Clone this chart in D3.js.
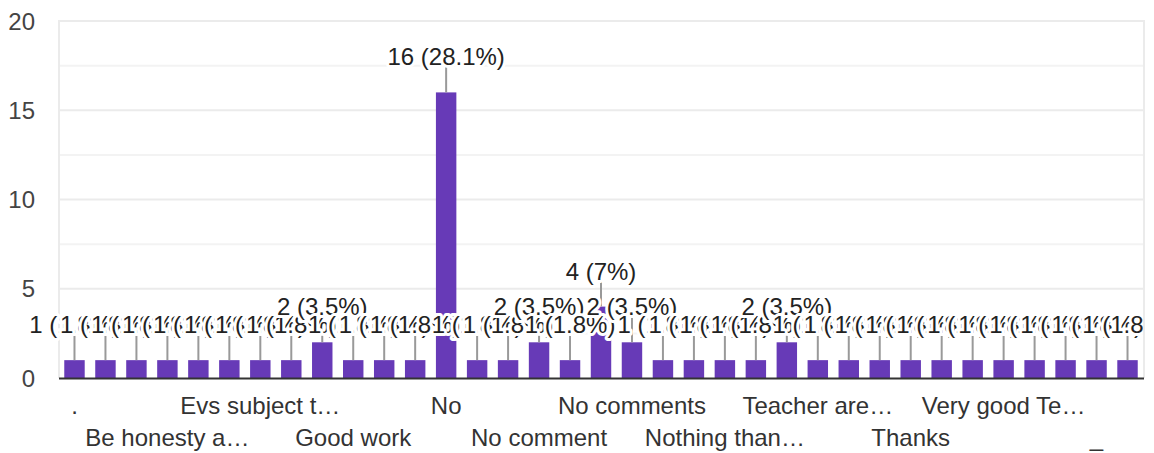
<!DOCTYPE html>
<html>
<head>
<meta charset="utf-8">
<script src="https://cdn.jsdelivr.net/npm/d3@7"></script>
<style>
  html, body { margin: 0; padding: 0; background: #fff; }
  svg { display: block; font-family: "Liberation Sans", Arial, sans-serif; }
</style>
</head>
<body>
<svg id="chart" width="1154" height="453"></svg>
<script>
const categories = [
  ".", "All good", "Awesome", "Be honesty a…", "Best teacher", "Everything is good",
  "Evs subject t…", "Good", "Good teaching", "Good work", "I like it", "Nice",
  "No", "No anything", "No changes", "No comment", "No comment sir", "No comment.",
  "No comments", "No suggestion", "Nothing", "Nothing than…", "Ok", "Super",
  "Teacher are…", "Teacher is good", "Teaching is good", "Thanks", "Thanks a lot",
  "Very good", "Very good Te…", "Very nice", "Well done", "_", "nothing"
];
const values = [
  1, 1, 1, 1, 1, 1,
  1, 1, 2, 1, 1, 1,
  16, 1, 1, 2, 1, 4,
  2, 1, 1, 1, 1, 2,
  1, 1, 1, 1, 1,
  1, 1, 1, 1, 1, 1
];
const yTicks = [0, 5, 10, 15, 20];
const yMinorTicks = [2.5, 7.5, 12.5, 17.5];

const total = d3.sum(values);
const data = categories.map((c, i) => ({ i, cat: c, v: values[i] }));

const svg = d3.select("#chart");
const plot = { left: 59, right: 1143, top: 21, bottom: 378 };

svg.append("defs").append("clipPath").attr("id", "labelClip")
  .append("rect").attr("x", 0).attr("y", 0)
  .attr("width", plot.right).attr("height", plot.bottom);

const x = d3.scaleBand()
  .domain(categories)
  .range([plot.left, plot.right])
  .paddingInner(0.34)
  .paddingOuter(0.17);

const y = d3.scaleLinear()
  .domain([0, 20])
  .range([plot.bottom, plot.top]);

// minor gridlines
svg.append("g").selectAll("line").data(yMinorTicks).join("line")
  .attr("x1", plot.left).attr("x2", plot.right)
  .attr("y1", d => y(d)).attr("y2", d => y(d))
  .attr("stroke", "#f3f3f3").attr("stroke-width", 2);

// major gridlines
svg.append("g").selectAll("line").data(yTicks.filter(t => t > 0)).join("line")
  .attr("x1", plot.left).attr("x2", plot.right + 1)
  .attr("y1", d => y(d)).attr("y2", d => y(d))
  .attr("stroke", "#ebebeb").attr("stroke-width", 2);

// frame verticals
svg.append("g").selectAll("line").data([plot.left, plot.right + 1]).join("line")
  .attr("x1", d => d).attr("x2", d => d)
  .attr("y1", y(20) - 1).attr("y2", plot.bottom)
  .attr("stroke", "#ebebeb").attr("stroke-width", 2);

// bars
svg.append("g").selectAll("rect").data(data).join("rect")
  .attr("x", d => x(d.cat))
  .attr("width", x.bandwidth())
  .attr("y", d => y(d.v))
  .attr("height", d => y(0) - y(d.v))
  .attr("fill", "#673ab7");

// baseline
svg.append("line")
  .attr("x1", plot.left).attr("x2", plot.right + 1)
  .attr("y1", y(0) + 0.5).attr("y2", y(0) + 0.5)
  .attr("stroke", "#333").attr("stroke-width", 2);

// leader lines
svg.append("g").selectAll("line").data(data).join("line")
  .attr("x1", d => x(d.cat) + x.bandwidth() / 2)
  .attr("x2", d => x(d.cat) + x.bandwidth() / 2)
  .attr("y1", d => y(d.v))
  .attr("y2", d => y(d.v) - 28)
  .attr("stroke", "#999").attr("stroke-width", 2);

// data labels (with white halo, drawn in order)
const fmt = v => `${v} (${Math.round(v / total * 1000) / 10}%)`;
svg.append("g").attr("clip-path", "url(#labelClip)")
  .selectAll("text").data(data).join("text")
  .attr("x", d => x(d.cat) + x.bandwidth() / 2)
  .attr("y", d => y(d.v) - 27)
  .attr("text-anchor", "middle")
  .attr("font-size", 24)
  .attr("fill", "#222")
  .attr("stroke", "#fff")
  .attr("stroke-width", 6)
  .attr("stroke-linejoin", "round")
  .attr("paint-order", "stroke")
  .text(d => fmt(d.v));

// x labels, every third, alternating rows
svg.append("g").selectAll("text").data(data.filter(d => d.i % 3 === 0)).join("text")
  .attr("x", d => x(d.cat) + x.bandwidth() / 2)
  .attr("y", d => ((d.i / 3) % 2 === 0) ? 414 : 446)
  .attr("text-anchor", "middle")
  .attr("font-size", 24)
  .attr("fill", "#333")
  .text(d => d.cat);

// y labels
svg.append("g").selectAll("text").data(yTicks).join("text")
  .attr("x", 35)
  .attr("y", d => y(d))
  .attr("dy", "0.36em")
  .attr("text-anchor", "end")
  .attr("font-size", 24)
  .attr("fill", "#444")
  .text(d => d);
</script>
</body>
</html>
